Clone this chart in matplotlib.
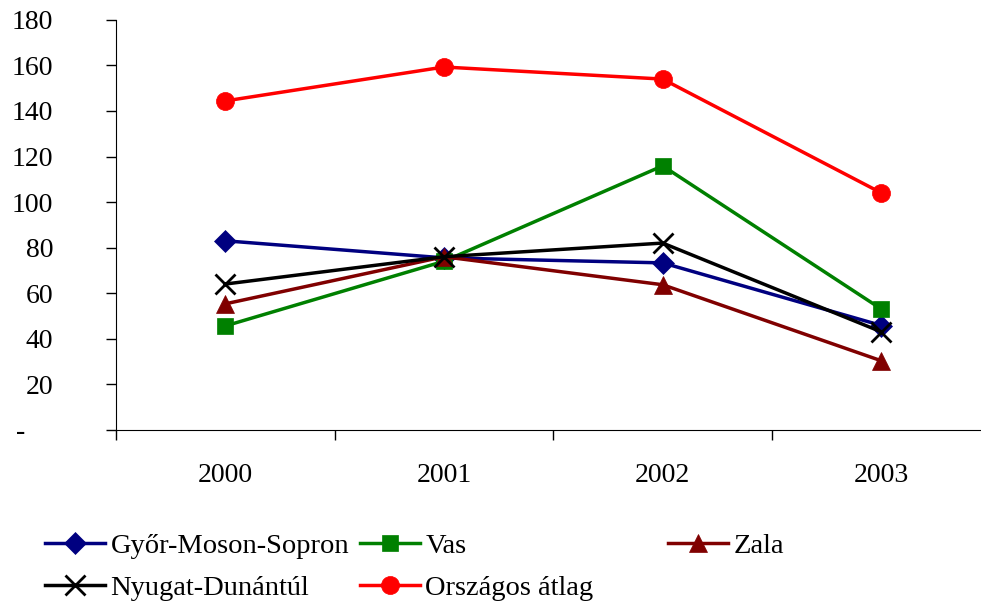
import matplotlib
matplotlib.use("Agg")
import matplotlib.pyplot as plt
from matplotlib.ticker import FixedLocator

plt.rcParams['font.family'] = ['Liberation Serif', 'DejaVu Serif']

years = ['2000', '2001', '2002', '2003']
gyor = [83, 75.5, 73.3, 45.8]
vas = [45.6, 74, 115.9, 53]
zala = [55.3, 76, 63.7, 30.3]
nyugat = [64, 76, 82, 43]
orszagos = [144.4, 159.3, 154, 104]

series = [
    ('Győr-Moson-Sopron', gyor, '#000080', 'D', 11),
    ('Vas', vas, '#008000', 's', 12),
    ('Zala', zala, '#800000', '^', 13),
    ('Nyugat-Dunántúl', nyugat, '#000000', 'x', 14),
    ('Országos átlag', orszagos, '#ff0000', 'o', 13),
]

fig = plt.figure(figsize=(9.81, 6.02), dpi=100)
ax = fig.add_axes([0.118, 0.286, 0.892, 0.681])

xs = range(len(years))
lines = []
for name, vals, col, mk, ms in series:
    ln, = ax.plot(xs, vals, color=col, lw=2.5, marker=mk, ms=ms,
                  mew=2 if mk == 'x' else 0.5, mfc=col, mec=col, label=name)
    lines.append(ln)

ax.set_xlim(-0.5, 3.5)
ax.set_ylim(0, 180)
ax.set_yticks(range(0, 181, 20))
ax.set_yticklabels(['-    '] + [str(v) for v in range(20, 181, 20)])

ax.xaxis.set_major_locator(FixedLocator([-0.5, 0.5, 1.5, 2.5, 3.5]))
ax.xaxis.set_minor_locator(FixedLocator(list(xs)))
ax.set_xticklabels([], minor=False)
ax.set_xticklabels(years, minor=True)
ax.tick_params(axis='x', which='major', direction='out', length=7, width=1)
ax.tick_params(axis='x', which='minor', length=0, pad=24, labelsize=20)
ax.tick_params(axis='y', direction='out', length=7, width=1, pad=38, labelsize=20)

for s in ['top', 'right']:
    ax.spines[s].set_visible(False)
ax.spines['bottom'].set_clip_on(False)

# legend entries laid out in a fixed grid below the plot
spots = [(45, 546), (360, 546), (668, 546), (45, 588), (360, 588)]
for ln, (px, py) in zip(lines, spots):
    lg = fig.legend([ln], [ln.get_label()], loc='center left',
                    bbox_to_anchor=(px / 981, 1 - py / 602), frameon=False,
                    borderpad=0, borderaxespad=0, handlelength=2.1,
                    handletextpad=0.2, fontsize=20.5)

fig.savefig('out.png', dpi=100)
